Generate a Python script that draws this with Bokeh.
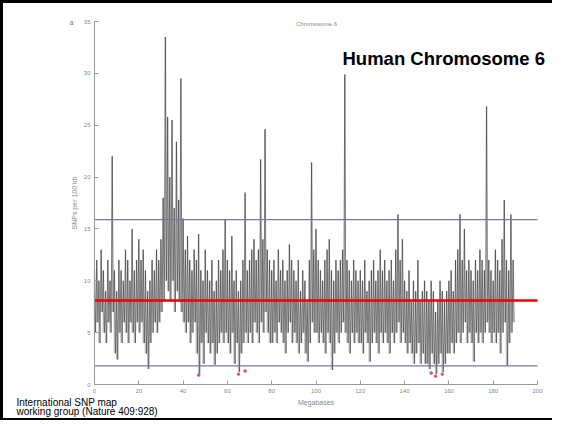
from bokeh.plotting import figure
from bokeh.models import Range1d, Label, FixedTicker
from bokeh.embed import file_html
from bokeh.resources import INLINE

# ---- data ----
# SNP density per 1-Mb bin along chromosome 6: local maximum and minimum
hi = [11, 12, 10, 13, 11, 9, 12, 10, 22, 11,
      9, 12, 11, 10, 13, 12, 10, 15, 11, 12,
      14, 12, 13, 11, 9, 10, 12, 11, 13, 12,
      14, 18, 33.5, 25.8, 20, 25.5, 17, 23.4, 17.8, 29.5,
      16, 13, 14.3, 12, 11, 13, 12, 14.5, 11, 10,
      13, 11, 10, 12, 9, 10, 12, 11, 13, 15.9,
      12, 11, 14.3, 10, 11, 9, 10, 12, 18.5, 11,
      12, 13, 14, 12, 13, 21.7, 14, 24.6, 13, 12,
      11, 12, 10, 13, 11, 12, 10, 11, 13.5, 12,
      11, 10, 12, 9, 11, 10, 8, 12, 21.4, 13,
      15, 12, 11, 10, 12, 13, 14, 11, 10, 12,
      11, 12, 13, 29.9, 12, 11, 10, 12, 11, 10,
      11, 10, 12, 9, 10, 11, 12, 10, 11, 13,
      11, 12, 10, 11, 12, 10, 13, 16.4, 12, 14,
      10, 9, 11, 8, 10, 9, 12, 8, 9, 10,
      9, 8, 10, 9, 7, 8, 10, 9, 8, 9,
      10, 11, 9, 12, 13, 16.4, 12, 15, 11, 12,
      11, 10, 12, 11, 13, 12, 11, 26.8, 12, 11,
      10, 13, 12, 11, 14, 17.8, 12, 11, 16.4, 12]
lo = [5, 6, 4, 7, 5, 4, 6, 5, 7, 3,
      2.4, 5, 4, 6, 5, 4, 6, 5, 4, 6,
      5, 6, 4, 3, 1.5, 4, 5, 6, 5, 6,
      7, 8, 10, 9, 8, 10, 7, 9, 8, 7,
      6, 5, 6, 4, 5, 6, 3, 1.0, 4, 2,
      5, 4, 3, 4, 1.9, 3, 4, 5, 4, 5,
      4, 3, 5, 2, 4, 1.2, 3, 4, 5, 4,
      5, 4, 6, 5, 4, 6, 5, 7, 5, 4,
      4, 5, 4, 6, 5, 4, 3, 5, 6, 4,
      5, 4, 3, 4, 5, 3, 2.2, 4, 6, 5,
      5, 4, 5, 4, 3, 5, 4, 1.4, 3, 5,
      4, 5, 6, 5, 4, 3, 5, 4, 5, 4,
      4, 3, 5, 4, 2.2, 4, 5, 4, 3, 5,
      4, 5, 4, 3, 5, 4, 5, 6, 4, 5,
      4, 3, 4, 3, 2, 3, 4, 2, 3, 2,
      2, 1.5, 3, 2, 1, 2, 3, 1.2, 2, 3,
      3, 4, 3, 4, 5, 4, 5, 6, 4, 5,
      4, 2.2, 5, 4, 5, 4, 5, 6, 5, 4,
      5, 4, 5, 3, 5, 6, 1.8, 4, 5, 6]
mb = list(range(len(hi)))

low_x = [47, 65, 68, 152, 154, 157]      # red marks near zero
low_y = [0.9, 1.0, 1.3, 1.1, 0.8, 1.0]

mean_density = 8.1
upper_limit = 15.9
lower_limit = 1.8

x_ticks = [0, 20, 40, 60, 80, 100, 120, 140, 160, 180, 200]
y_ticks = [0, 5, 10, 15, 20, 25, 30, 35]

# ---- geometry (pixels): the frame fills the whole canvas, axes are drawn inside ----
W, H = 552, 420
AX_LEFT, AX_RIGHT = 91, 534      # x pixel of 0 and 200 Mb
AX_TOP, AX_BOTTOM = 18, 381      # y pixel (from top) of 35 and 0
xs = (AX_RIGHT - AX_LEFT) / (x_ticks[-1] - x_ticks[0])
ys = (AX_BOTTOM - AX_TOP) / (y_ticks[-1] - y_ticks[0])
x_range = Range1d(x_ticks[0] - AX_LEFT / xs, x_ticks[0] + (W - AX_LEFT) / xs)
y_range = Range1d(y_ticks[0] - (H - AX_BOTTOM) / ys, y_ticks[0] + AX_BOTTOM / ys)

p = figure(width=W, height=H, output_backend="svg", toolbar_location=None,
           x_range=x_range, y_range=y_range,
           min_border=0, min_border_left=0, min_border_right=0,
           min_border_top=0, min_border_bottom=0)
p.styles = {"border-left": "3px solid black", "border-top": "3px solid black",
            "border-bottom": "2px solid black"}
p.outline_line_color = None
p.grid.visible = False

# zig-zag trace
zx, zy = [], []
for i in range(len(mb)):
    zx.append(mb[i]); zy.append(hi[i])
    zx.append(mb[i] + 0.5); zy.append(lo[i])
p.segment(x0=mb, y0=lo, x1=mb, y1=hi, line_color="#9a9a9a", line_width=1.5, line_alpha=0.6)
p.line(zx, zy, line_color="#3a3a3a", line_width=0.9, line_alpha=0.65)
p.scatter(low_x, low_y, size=2.5, color="#e05060", marker="circle")

levels = [upper_limit, lower_limit, mean_density]
p.segment(x0=[x_ticks[0]] * 3, x1=[x_ticks[-1]] * 3, y0=levels, y1=levels,
          line_color=["#7878a0", "#7878a0", "#ee0000"], line_width=[1.2, 1.2, 2.4])

for ax, rng in ((p.xaxis[0], (x_ticks[0], x_ticks[-1])), (p.yaxis[0], (y_ticks[0], y_ticks[-1]))):
    ax.fixed_location = 0
    ax.bounds = rng
    ax.axis_line_color = "#999999"
    ax.major_tick_line_color = "#999999"
    ax.major_tick_in = 4
    ax.major_tick_out = 0
    ax.minor_tick_line_color = None
    ax.major_label_text_font = "Liberation Sans"
    ax.major_label_text_font_size = "6px"
    ax.major_label_text_color = "#888888"
    ax.axis_label_text_font = "Liberation Sans"
    ax.axis_label_text_font_size = "7px"
    ax.axis_label_text_font_style = "normal"
    ax.axis_label_text_color = "#888888"
    ax.major_label_standoff = 4
    ax.axis_label_standoff = 3
p.xaxis.ticker = FixedTicker(ticks=x_ticks)
p.yaxis.ticker = FixedTicker(ticks=y_ticks)
p.xaxis.axis_label = "Megabases"
p.yaxis.axis_label = "SNPs per 100 kb"

# labels: screen units, origin at the bottom-left of the canvas
p.add_layout(Label(x=313, y=400, x_units="screen", y_units="screen",
                   text="Chromosome 6", text_font="Liberation Sans", text_font_size="6px",
                   text_color="#888888", text_align="center", text_baseline="alphabetic"))
p.add_layout(Label(x=66, y=401, x_units="screen", y_units="screen",
                   text="a", text_font="Liberation Sans", text_font_size="7px",
                   text_color="#777777", text_baseline="middle"))
p.add_layout(Label(x=339, y=365, x_units="screen", y_units="screen",
                   text="Human Chromosome 6", text_font="Liberation Sans",
                   text_font_size="18.5px", text_font_style="bold", text_color="#000000",
                   text_baseline="alphabetic"))
p.add_layout(Label(x=13, y=21, x_units="screen", y_units="screen",
                   text="International SNP map", text_font="Liberation Sans",
                   text_font_size="10px", text_color="#000000", text_baseline="alphabetic"))
p.add_layout(Label(x=13, y=12, x_units="screen", y_units="screen",
                   text="working group  (Nature 409:928)", text_font="Liberation Sans",
                   text_font_size="10px", text_color="#000000", text_baseline="alphabetic"))

open("out.html", "w").write(file_html(p, INLINE))
